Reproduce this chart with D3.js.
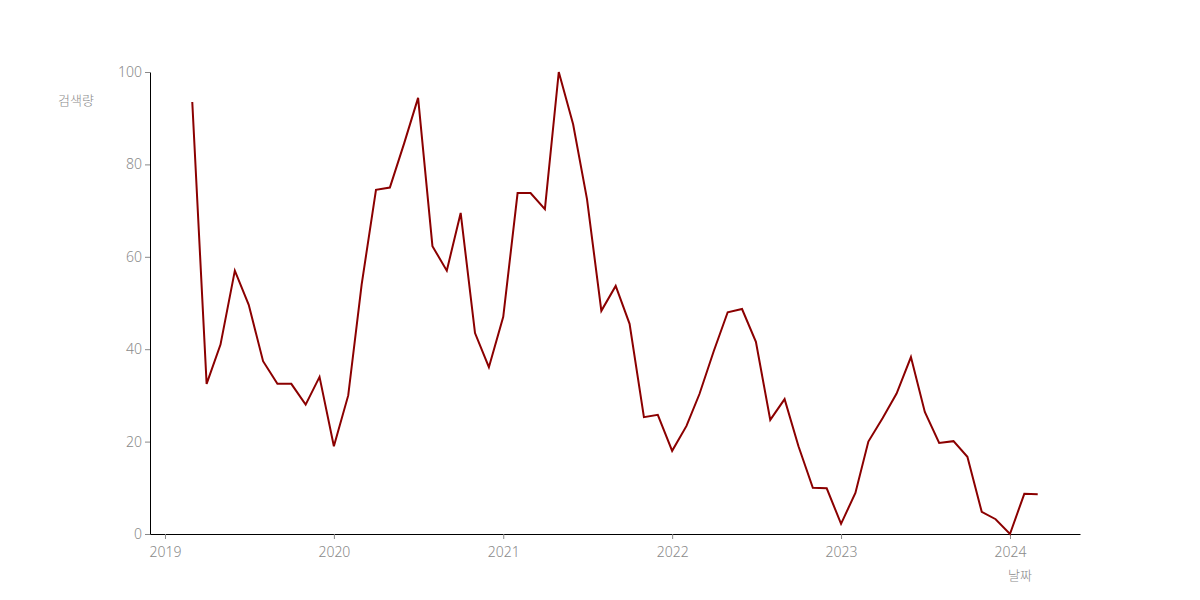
<!DOCTYPE html>
<html>
<head>
<meta charset="utf-8">
<script src="https://d3js.org/d3.v7.min.js"></script>
<style>
  body { margin: 0; background: #fff; }
  .tick text { fill: #8a8a8a; font-size: 14px; font-family: "Noto Sans", "Noto Sans CJK KR", sans-serif; font-weight: 300; }
  .tick line { stroke: #888; }
  .domain { stroke: #000; }
  .axis-label { fill: #8a8a8a; font-size: 13px; font-family: "Noto Sans CJK KR", sans-serif; font-weight: 300; }
</style>
</head>
<body>
<svg id="chart" width="1200" height="600"></svg>
<script>
// monthly search volume, 2019-03 .. 2024-03
var startMonth = "2019-03";
var volume = [
  93.5, 32.5, 41, 57, 49.6, 37.4, 32.5, 32.5, 28, 34,
  19, 30, 54, 74.5, 75, 84.6, 94.4, 62.3, 57, 69.5, 43.5, 36.1,
  47, 73.8, 73.8, 70.3, 100, 88.7, 72.5, 48.3, 53.7, 45.5, 25.3, 25.8,
  18, 23.4, 30.3, 39.6, 48, 48.7, 41.6, 24.7, 29.2, 19, 10, 9.9,
  2.2, 8.9, 20, 25.1, 30.4, 38.3, 26.4, 19.7, 20.1, 16.7, 4.8, 3.2,
  0, 8.7, 8.6
];
var yTicks = [0, 20, 40, 60, 80, 100];
var yLabel = "검색량";
var xLabel = "날짜";

var margin = {top: 72, right: 120, bottom: 66, left: 150},
    width = 1200 - margin.left - margin.right,
    height = 600 - margin.top - margin.bottom;

var parseMonth = d3.timeParse("%Y-%m");
var t0 = parseMonth(startMonth);
var data = volume.map(function(v, i) {
  return {date: d3.timeMonth.offset(t0, i), value: v};
});

// 5% padding on the time axis
var ext = d3.extent(data, function(d) { return d.date; });
var pad = (ext[1] - ext[0]) * 0.05;

var x = d3.scaleTime()
    .domain([new Date(+ext[0] - pad), new Date(+ext[1] + pad)])
    .range([0, width]);
var y = d3.scaleLinear()
    .domain([0, 100])
    .range([height, 0]);

var svg = d3.select("#chart")
  .append("g")
    .attr("transform", "translate(" + margin.left + "," + margin.top + ")");

// X axis
svg.append("g")
    .attr("transform", "translate(0," + height + ")")
    .call(d3.axisBottom(x).ticks(d3.timeYear.every(1)).tickFormat(d3.timeFormat("%Y")).tickSizeInner(5).tickSizeOuter(0))
    .call(function(g) { g.selectAll(".tick text").attr("dy", "1.05em"); });

// Y axis
svg.append("g")
    .call(d3.axisLeft(y).tickValues(yTicks).tickSizeInner(5).tickSizeOuter(0));

// axis labels
svg.append("text")
    .attr("class", "axis-label")
    .attr("x", -74)
    .attr("y", 33)
    .attr("text-anchor", "middle")
    .text(yLabel);

svg.append("text")
    .attr("class", "axis-label")
    .attr("x", x(parseMonth("2024-01")) + 10)
    .attr("y", height + 46)
    .attr("text-anchor", "middle")
    .text(xLabel);

// the line
var line = d3.line()
    .x(function(d) { return x(d.date); })
    .y(function(d) { return y(d.value); });

svg.append("path")
    .datum(data)
    .attr("fill", "none")
    .attr("stroke", "#8b0000")
    .attr("stroke-width", 2)
    .attr("d", line);
</script>
</body>
</html>
